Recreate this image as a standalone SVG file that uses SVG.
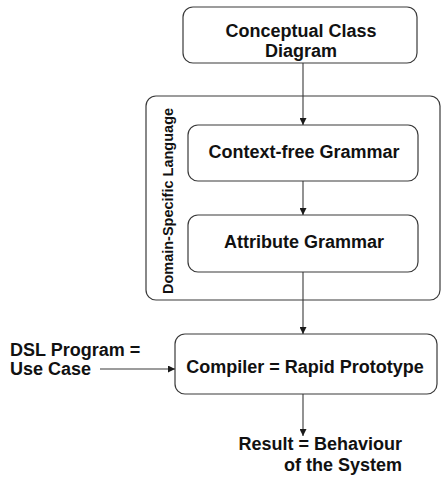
<svg xmlns="http://www.w3.org/2000/svg" width="444" height="479" viewBox="0 0 444 479">
<defs>
<marker id="ah" viewBox="0 0 10 10" refX="10" refY="5" markerWidth="7" markerHeight="7" markerUnits="userSpaceOnUse" orient="auto">
<path d="M0,0 L10,5 L0,10 Z" fill="#1a1a1a"/>
</marker>
<style>
.box{fill:#fff;stroke:#3a3a3a;stroke-width:1.2}
.t{font-family:"Liberation Sans",Arial,sans-serif;font-weight:bold;font-size:18px;fill:#111}
.lbl{font-family:"Liberation Sans",Arial,sans-serif;font-weight:bold;font-size:14.5px;fill:#111}
.c{stroke:#3a3a3a;stroke-width:1.1;fill:none;marker-end:url(#ah)}
</style>
</defs>
<rect width="444" height="479" fill="#fff"/>
<g id="dsl">
<rect class="box" x="146" y="96" width="294" height="204" rx="10"/>
<text class="lbl" x="173" y="201" text-anchor="middle" transform="rotate(-90 173 201)">Domain-Specific Language</text>
</g>
<g id="conceptual">
<rect class="box" x="183" y="7" width="234" height="56" rx="10"/>
<text class="t" x="301" y="37" text-anchor="middle">Conceptual Class</text>
<text class="t" x="301" y="57" text-anchor="middle">Diagram</text>
</g>
<g id="cfg">
<rect class="box" x="188" y="125" width="230" height="56" rx="10"/>
<text class="t" x="304" y="158" text-anchor="middle">Context-free Grammar</text>
</g>
<g id="ag">
<rect class="box" x="188" y="215" width="230" height="57" rx="10"/>
<text class="t" x="304" y="248" text-anchor="middle">Attribute Grammar</text>
</g>
<g id="compiler">
<rect class="box" x="175" y="334" width="262" height="60" rx="10"/>
<text class="t" x="305" y="373" text-anchor="middle">Compiler = Rapid Prototype</text>
</g>
<g id="input">
<text class="t" x="10" y="356">DSL Program =</text>
<text class="t" x="10" y="375">Use Case</text>
</g>
<g id="result">
<text class="t" x="402" y="450" text-anchor="end">Result = Behaviour</text>
<text class="t" x="402" y="471" text-anchor="end">of the System</text>
</g>
<g id="connectors">
<line class="c" x1="303" y1="63" x2="303" y2="125"/>
<line class="c" x1="303" y1="181" x2="303" y2="215"/>
<line class="c" x1="303" y1="272" x2="303" y2="334"/>
<line class="c" x1="303" y1="394" x2="303" y2="436"/>
<line class="c" x1="100" y1="369" x2="175" y2="369"/>
</g>
</svg>
